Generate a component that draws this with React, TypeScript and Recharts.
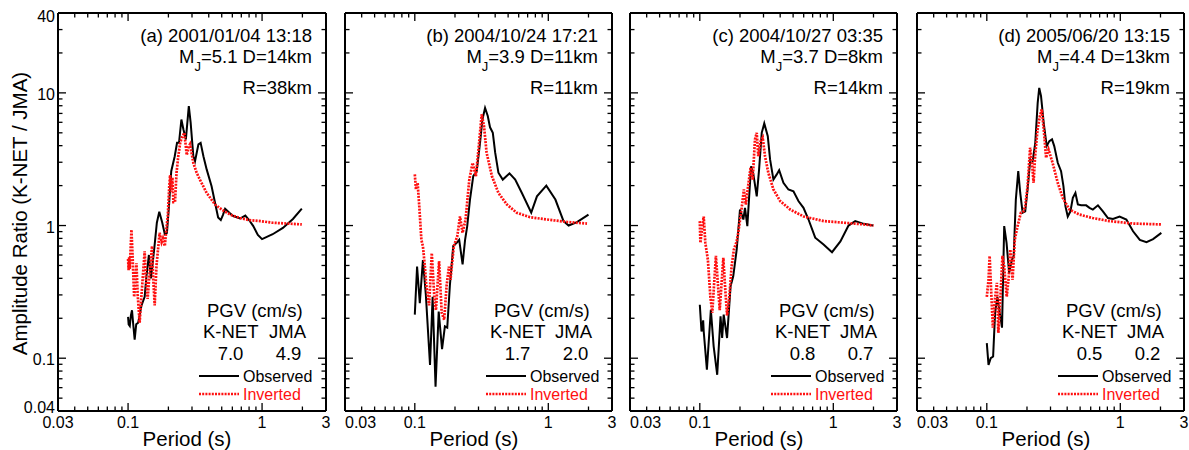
import React from 'react';
import { LineChart, Line, XAxis, YAxis } from 'recharts';

// ---------- data (period [s], amplitude ratio) ----------
const obsA: [number, number][] = [[0.1,0.205],[0.101,0.18],[0.103,0.175],[0.105,0.21],[0.107,0.23],[0.109,0.185],[0.112,0.138],[0.115,0.18],[0.119,0.185],[0.126,0.25],[0.133,0.29],[0.137,0.41],[0.143,0.6],[0.148,0.4],[0.152,0.5],[0.158,0.72],[0.164,1.05],[0.171,1.27],[0.18,1.05],[0.188,0.86],[0.195,0.88],[0.202,1.4],[0.21,2.57],[0.223,3.33],[0.232,4.2],[0.24,4.2],[0.25,6.3],[0.259,5.3],[0.27,4.46],[0.284,7.95],[0.293,6.0],[0.307,3.33],[0.316,3.06],[0.335,4.09],[0.348,4.2],[0.365,3.33],[0.386,2.65],[0.42,1.98],[0.446,1.48],[0.47,1.15],[0.492,1.1],[0.51,1.2],[0.53,1.34],[0.57,1.25],[0.61,1.18],[0.685,1.13],[0.75,1.19],[0.8,1.1],[0.86,0.99],[0.93,0.85],[1.0,0.79],[1.2,0.86],[1.43,0.96],[1.7,1.12],[1.98,1.34]];
const invA: [number, number][] = [[0.1,0.56],[0.101,0.46],[0.102,0.58],[0.103,0.47],[0.104,0.6],[0.106,0.93],[0.108,0.6],[0.111,0.29],[0.113,0.35],[0.1155,0.52],[0.118,0.3],[0.122,0.185],[0.126,0.3],[0.133,0.64],[0.136,0.4],[0.14,0.28],[0.145,0.45],[0.151,0.7],[0.154,0.4],[0.158,0.25],[0.163,0.5],[0.172,0.88],[0.178,0.75],[0.182,0.8],[0.188,0.7],[0.193,0.93],[0.198,1.2],[0.203,2.0],[0.206,2.4],[0.21,1.8],[0.214,2.3],[0.218,1.5],[0.224,1.5],[0.23,2.5],[0.237,3.33],[0.245,4.2],[0.252,4.6],[0.263,5.0],[0.268,4.2],[0.274,3.4],[0.282,3.9],[0.29,4.1],[0.298,3.5],[0.307,2.97],[0.325,2.5],[0.345,2.2],[0.386,1.76],[0.446,1.44],[0.5,1.32],[0.545,1.25],[0.6,1.19],[0.685,1.14],[0.8,1.1],[0.97,1.08],[1.2,1.05],[1.53,1.035],[1.98,1.02]];

const obsB: [number, number][] = [[0.1,0.213],[0.104,0.49],[0.109,0.26],[0.115,0.55],[0.121,0.3],[0.13,0.089],[0.136,0.29],[0.143,0.061],[0.151,0.225],[0.16,0.117],[0.168,0.174],[0.175,0.17],[0.183,0.35],[0.194,0.7],[0.206,0.74],[0.215,0.78],[0.228,0.51],[0.238,0.78],[0.247,0.99],[0.259,1.57],[0.274,2.36],[0.291,2.57],[0.308,4.2],[0.321,6.3],[0.336,7.7],[0.352,6.7],[0.366,5.5],[0.384,5.0],[0.4,3.54],[0.423,2.5],[0.456,2.22],[0.512,2.47],[0.565,2.22],[0.634,1.76],[0.745,1.25],[0.822,1.66],[0.966,2.0],[1.13,1.57],[1.3,1.08],[1.42,1.0],[1.64,1.06],[2.0,1.21]];
const invB: [number, number][] = [[0.1,2.43],[0.102,1.87],[0.105,2.1],[0.108,1.4],[0.112,0.78],[0.115,0.7],[0.119,0.49],[0.122,0.35],[0.128,0.25],[0.134,0.62],[0.14,0.29],[0.144,0.23],[0.152,0.54],[0.159,0.22],[0.166,0.195],[0.173,0.35],[0.18,0.49],[0.185,0.39],[0.196,0.7],[0.208,0.83],[0.218,1.17],[0.228,0.88],[0.24,1.11],[0.256,2.22],[0.271,2.97],[0.287,2.36],[0.303,4.2],[0.317,6.9],[0.33,5.6],[0.345,3.54],[0.378,2.36],[0.423,1.76],[0.49,1.44],[0.58,1.25],[0.73,1.155],[0.98,1.11],[1.38,1.065],[1.95,1.035]];

const obsC: [number, number][] = [[0.1,0.253],[0.103,0.159],[0.106,0.193],[0.107,0.159],[0.113,0.082],[0.121,0.232],[0.127,0.123],[0.135,0.075],[0.143,0.207],[0.147,0.142],[0.151,0.213],[0.16,0.142],[0.17,0.348],[0.178,0.414],[0.189,0.66],[0.2,1.32],[0.212,1.11],[0.218,1.36],[0.227,0.99],[0.242,2.8],[0.252,2.43],[0.267,1.66],[0.278,2.65],[0.291,5.0],[0.304,5.89],[0.323,4.72],[0.336,3.15],[0.356,2.22],[0.377,2.43],[0.393,2.61],[0.423,2.1],[0.461,1.87],[0.503,1.81],[0.548,1.53],[0.598,1.36],[0.652,1.11],[0.732,0.81],[0.845,0.72],[0.978,0.63],[1.13,0.76],[1.3,1.0],[1.46,1.08],[1.69,1.03],[1.99,1.0]];
const invC: [number, number][] = [[0.1,1.08],[0.101,0.74],[0.105,1.02],[0.107,1.17],[0.11,0.74],[0.115,0.55],[0.12,0.29],[0.124,0.22],[0.132,0.59],[0.137,0.35],[0.141,0.23],[0.15,0.57],[0.154,0.37],[0.16,0.21],[0.166,0.28],[0.173,0.49],[0.18,0.66],[0.189,0.76],[0.194,0.88],[0.206,1.36],[0.214,1.87],[0.221,1.44],[0.23,1.98],[0.24,2.73],[0.249,2.22],[0.259,4.46],[0.267,5.0],[0.274,3.33],[0.286,4.33],[0.296,4.6],[0.308,3.33],[0.326,2.5],[0.356,1.87],[0.4,1.53],[0.475,1.32],[0.6,1.17],[0.85,1.08],[1.2,1.05],[1.69,1.02],[2.0,1.0]];

const obsD: [number, number][] = [[0.1,0.13],[0.103,0.089],[0.107,0.1],[0.1115,0.103],[0.1154,0.22],[0.12,0.29],[0.125,0.22],[0.13,0.17],[0.135,0.99],[0.1406,0.74],[0.147,0.44],[0.154,0.55],[0.159,0.59],[0.165,1.57],[0.172,2.57],[0.178,1.76],[0.1855,1.25],[0.194,1.28],[0.202,1.87],[0.2117,3.15],[0.2206,3.06],[0.2307,4.2],[0.2405,8.4],[0.247,10.9],[0.2547,9.5],[0.2668,5.95],[0.281,3.97],[0.294,4.33],[0.308,4.46],[0.32,3.97],[0.34,2.97],[0.36,2.57],[0.375,1.98],[0.388,1.4],[0.404,1.17],[0.423,1.28],[0.441,1.62],[0.461,1.76],[0.481,1.44],[0.509,1.42],[0.555,1.42],[0.588,1.36],[0.623,1.32],[0.68,1.42],[0.741,1.28],[0.808,1.14],[0.881,1.12],[0.988,1.17],[1.11,1.11],[1.246,0.905],[1.4,0.78],[1.57,0.75],[1.76,0.79],[2.03,0.88]];
const invD: [number, number][] = [[0.1,0.29],[0.103,0.39],[0.105,0.59],[0.108,0.31],[0.111,0.17],[0.115,0.277],[0.119,0.37],[0.122,0.155],[0.125,0.23],[0.131,0.59],[0.135,0.49],[0.141,0.29],[0.146,0.41],[0.15,0.66],[0.156,0.39],[0.162,0.78],[0.17,0.99],[0.18,1.25],[0.188,1.28],[0.194,1.4],[0.202,1.98],[0.211,3.86],[0.218,2.97],[0.224,2.1],[0.23,3.33],[0.24,5.3],[0.25,6.7],[0.258,7.5],[0.267,5.3],[0.278,3.24],[0.29,3.74],[0.311,2.97],[0.34,2.1],[0.37,1.62],[0.416,1.32],[0.494,1.21],[0.62,1.14],[0.83,1.08],[1.25,1.035],[2.03,1.02]];

const TITLES = ['(a) 2001/01/04 13:18', '(b) 2004/10/24 17:21', '(c) 2004/10/27 03:35', '(d) 2005/06/20 13:15'];
const MAGNITUDES = ['5.1', '3.9', '3.7', '4.4'];
const DEPTHS = ['14', '11', '8', '13'];
const DISTANCES = ['38', '11', '14', '19'];
const PGV_KNET = ['7.0', '1.7', '0.8', '0.5'];
const PGV_JMA = ['4.9', '2.0', '0.7', '0.2'];
const OBSERVED = [obsA, obsB, obsC, obsD];
const INVERTED = [invA, invB, invC, invD];

const X_TICKS = [0.03, 0.04, 0.05, 0.06, 0.07, 0.08, 0.09, 0.1, 0.2, 0.3, 0.4, 0.5, 0.6, 0.7, 0.8, 0.9, 1, 2, 3];
const X_TICK_LABELS = ['0.03', '0.1', '1', '3'];
const Y_TICKS = [0.04, 0.05, 0.06, 0.07, 0.08, 0.09, 0.1, 0.2, 0.3, 0.4, 0.5, 0.6, 0.7, 0.8, 0.9, 1, 2, 3, 4, 5, 6, 7, 8, 9, 10, 20, 30, 40];
const Y_TICK_LABELS = ['0.04', '0.1', '1', '10', '40'];
const MAJOR = [0.1, 1, 10];

// ---------- layout ----------
const FONT = '"Liberation Sans", Arial, Helvetica, sans-serif';
const RED = '#ff1010';
const PANEL_LEFT = [58, 345, 630, 917];
const PANEL_W = [268, 267, 267, 267];
const TOP = 13;
const BOTTOM = 411;
const H = 450;

const fmt = (v: number) => String(+v.toPrecision(3));

function makeTick(side: 'bottom' | 'top' | 'left' | 'right', labels: boolean, firstPanel: boolean) {
  return (props: any) => {
    const { x, y, payload } = props;
    const v = payload.value as number;
    const len = MAJOR.includes(v) ? 8 : 4.5;
    let line;
    if (side === 'bottom') line = <line x1={x} y1={y} x2={x} y2={y - len} stroke="#000" strokeWidth={1.3} />;
    else if (side === 'top') line = <line x1={x} y1={y} x2={x} y2={y + len} stroke="#000" strokeWidth={1.3} />;
    else if (side === 'left') line = <line x1={x} y1={y} x2={x + len} y2={y} stroke="#000" strokeWidth={1.3} />;
    else line = <line x1={x} y1={y} x2={x - len} y2={y} stroke="#000" strokeWidth={1.3} />;
    let label = null;
    const s = fmt(v);
    if (labels && side === 'bottom' && X_TICK_LABELS.includes(s)) {
      const anchor = s === '0.03' && !firstPanel ? 'start' : 'middle';
      label = <text x={x} y={y + 17} textAnchor={anchor} fontSize={16} fontFamily={FONT} fill="#000">{s}</text>;
    }
    if (labels && side === 'left' && Y_TICK_LABELS.includes(s)) {
      const dy = s === '40' ? 9 : s === '0.04' ? 2.3 : 7;
      label = <text x={x - 3} y={y + dy} textAnchor="end" fontSize={16} fontFamily={FONT} fill="#000">{s}</text>;
    }
    return <g>{line}{label}</g>;
  };
}

function Panel({ i }: { i: number }) {
  const first = i === 0;
  const ML = first ? PANEL_LEFT[0] : 22;
  const MR = 12;
  const w = PANEL_W[i];
  const x0 = ML;
  const r = ML + w;
  const obs = OBSERVED[i].map(([p, v]) => ({ p, v }));
  const inv = INVERTED[i].map(([p, v]) => ({ p, v }));
  return (
    <div style={{ position: 'absolute', left: PANEL_LEFT[i] - ML, top: 0 }}>
      <LineChart width={ML + w + MR} height={H} margin={{ top: TOP - 1, right: MR - 1, bottom: H - BOTTOM - 1, left: ML - 1 }}>
        <XAxis xAxisId={0} dataKey="p" type="number" scale="log" domain={[0.03, 3]} allowDataOverflow ticks={X_TICKS}
          interval={0} height={1} tickSize={0} tickMargin={0} tickLine={false}
          axisLine={{ stroke: '#000', strokeWidth: 2 }} tick={makeTick('bottom', true, first)} />
        <XAxis xAxisId="top" orientation="top" dataKey="p" type="number" scale="log" domain={[0.03, 3]} allowDataOverflow ticks={X_TICKS}
          interval={0} height={1} tickSize={0} tickMargin={0} tickLine={false}
          axisLine={{ stroke: '#000', strokeWidth: 2 }} tick={makeTick('top', false, first)} />
        <YAxis yAxisId={0} type="number" scale="log" domain={[0.04, 40]} allowDataOverflow ticks={Y_TICKS}
          interval={0} width={1} tickSize={0} tickMargin={0} tickLine={false}
          axisLine={{ stroke: '#000', strokeWidth: 2 }} tick={makeTick('left', first, first)} />
        <YAxis yAxisId="right" orientation="right" type="number" scale="log" domain={[0.04, 40]} allowDataOverflow ticks={Y_TICKS}
          interval={0} width={1} tickSize={0} tickMargin={0} tickLine={false}
          axisLine={{ stroke: '#000', strokeWidth: 2 }} tick={makeTick('right', false, first)} />
        <Line data={obs} dataKey="v" xAxisId={0} yAxisId={0} type="linear" stroke="#000" strokeWidth={2}
          dot={false} isAnimationActive={false} />
        <Line data={inv} dataKey="v" xAxisId={0} yAxisId={0} type="linear" stroke={RED} strokeWidth={2.7}
          strokeDasharray="2 1.2" dot={false} isAnimationActive={false} />
        <g fontFamily={FONT} fill="#000">
          <text x={r - 14} y={42} fontSize={18.5} textAnchor="end">{TITLES[i]}</text>
          <text x={r - 14} y={63} fontSize={18.5} textAnchor="end">M<tspan fontSize={13} dy={8}>J</tspan><tspan dy={-8}>{`=${MAGNITUDES[i]} D=${DEPTHS[i]}km`}</tspan></text>
          <text x={r - 14} y={94} fontSize={18.5} textAnchor="end">{`R=${DISTANCES[i]}km`}</text>
          <text x={x0 + 149} y={317} fontSize={18.5}>PGV (cm/s)</text>
          <text x={x0 + 145} y={338} fontSize={18.5}>K-NET</text>
          <text x={r - 20} y={338} fontSize={18.5} textAnchor="end">JMA</text>
          <text x={x0 + 172.5} y={360} fontSize={18.5} textAnchor="middle">{PGV_KNET[i]}</text>
          <text x={x0 + 230.5} y={360} fontSize={18.5} textAnchor="middle">{PGV_JMA[i]}</text>
          <line x1={x0 + 141} x2={x0 + 181} y1={376} y2={376} stroke="#000" strokeWidth={2} />
          <text x={x0 + 185} y={382} fontSize={16}>Observed</text>
          <line x1={x0 + 141} x2={x0 + 181} y1={394} y2={394} stroke={RED} strokeWidth={2.7} strokeDasharray="2 1.2" />
          <text x={x0 + 185} y={400} fontSize={16} fill={RED}>Inverted</text>
          <text x={x0 + 129} y={446} fontSize={20.5} textAnchor="middle">Period (s)</text>
          {first && (
            <text transform="translate(26.5,213.5) rotate(-90)" x={0} y={0} fontSize={20.5} textAnchor="middle">
              Amplitude Ratio (K-NET / JMA)
            </text>
          )}
        </g>
      </LineChart>
    </div>
  );
}

export default function App() {
  return (
    <div style={{ position: 'absolute', left: 0, top: 0, width: 1189, height: 450, background: '#fff', fontFamily: FONT }}>
      {[0, 1, 2, 3].map((i) => <Panel key={i} i={i} />)}
    </div>
  );
}
